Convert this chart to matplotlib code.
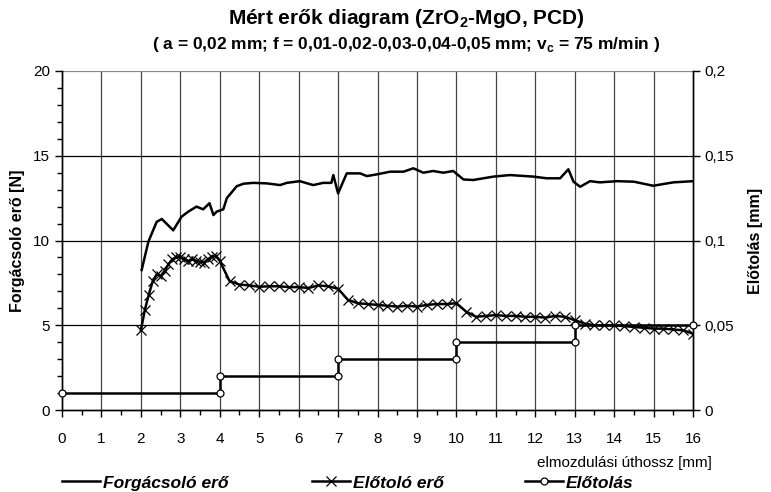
import matplotlib
matplotlib.use("Agg")
import matplotlib.pyplot as plt
from matplotlib.ticker import MultipleLocator, FuncFormatter
from matplotlib.lines import Line2D

plt.rcParams['font.family'] = ['Liberation Sans', 'DejaVu Sans']
plt.rcParams['mathtext.fontset'] = 'custom'
plt.rcParams['mathtext.rm'] = 'Liberation Sans'
plt.rcParams['mathtext.bf'] = 'Liberation Sans:bold'

# Forgácsoló erő (cutting force) [N]
fc_x = [2.02, 2.19, 2.4, 2.53, 2.82, 3.03, 3.2, 3.41, 3.58, 3.74, 3.84, 3.92, 4.09, 4.18,
        4.43, 4.6, 4.85, 5.19, 5.53, 5.7, 6.03, 6.37, 6.62, 6.83, 6.88, 7.0, 7.22, 7.56,
        7.73, 7.98, 8.32, 8.66, 8.91, 9.16, 9.41, 9.67, 9.92, 10.18, 10.43, 10.94, 11.36,
        11.95, 12.29, 12.63, 12.84, 12.97, 13.14, 13.39, 13.64, 14.07, 14.5, 14.99, 15.5, 16.0]
fc_y = [8.26, 9.93, 11.1, 11.27, 10.6, 11.4, 11.7, 12.0, 11.84, 12.2, 11.5, 11.7, 11.84, 12.5,
        13.2, 13.35, 13.4, 13.37, 13.27, 13.4, 13.5, 13.27, 13.4, 13.4, 13.86, 12.78, 13.96, 13.96,
        13.8, 13.9, 14.06, 14.06, 14.26, 14.0, 14.1, 14.0, 14.1, 13.6, 13.57, 13.77, 13.86,
        13.77, 13.67, 13.67, 14.2, 13.47, 13.17, 13.5, 13.43, 13.5, 13.47, 13.23, 13.43, 13.5]

# Előtoló erő (feed force) [N]
ff_x = [2.0, 2.1, 2.2, 2.3, 2.4, 2.5, 2.6, 2.7, 2.8, 2.9, 3.0, 3.1, 3.2, 3.3, 3.4, 3.5, 3.6,
        3.7, 3.8, 3.9, 4.0, 4.25, 4.5, 4.75, 5.0, 5.25, 5.5, 5.75, 6.0, 6.25, 6.5, 6.75, 7.0,
        7.25, 7.5, 7.75, 8.0, 8.25, 8.5, 8.75, 9.0, 9.25, 9.5, 9.75, 10.0, 10.25, 10.5, 10.75,
        11.0, 11.25, 11.5, 11.75, 12.0, 12.25, 12.5, 12.75, 13.0, 13.25, 13.5, 13.75, 14.0,
        14.25, 14.5, 14.75, 15.0, 15.25, 15.5, 15.75, 16.0]
ff_y = [4.7, 5.9, 6.8, 7.6, 8.0, 7.9, 8.2, 8.6, 8.9, 9.0, 9.05, 8.9, 8.8, 8.9, 8.8, 8.75, 8.7,
        8.9, 9.05, 9.1, 8.8, 7.6, 7.4, 7.35, 7.27, 7.3, 7.3, 7.25, 7.25, 7.2, 7.35, 7.3, 7.15,
        6.5, 6.3, 6.25, 6.2, 6.15, 6.1, 6.15, 6.1, 6.2, 6.25, 6.25, 6.3, 5.8, 5.5, 5.55,
        5.6, 5.55, 5.55, 5.5, 5.5, 5.45, 5.55, 5.5, 5.3, 5.1, 5.0, 5.0, 5.0,
        4.95, 4.9, 4.85, 4.8, 4.8, 4.75, 4.7, 4.5]

# Előtolás (feed) [mm]
f_x = [0, 4, 4, 7, 7, 10, 10, 13, 13, 16]
f_y = [0.01, 0.01, 0.02, 0.02, 0.03, 0.03, 0.04, 0.04, 0.05, 0.05]

x_ticks = list(range(0, 17))
left_ticks = [0, 5, 10, 15, 20]
right_ticks = [0, 0.05, 0.1, 0.15, 0.2]

LW = 1.8
fig = plt.figure(figsize=(7.71, 4.92), dpi=100)
ax = fig.add_axes([62/771, 1-410/492, (693-62)/771, (410-71)/492])
ax2 = ax.twinx()

ax.set_xlim(0, 16)
ax.set_ylim(0, 20)
ax2.set_ylim(0, 0.2)

# grid
for xv in x_ticks[1:-1]:
    ax.axvline(xv, color='#444444', lw=0.9, zorder=0)
for yv in left_ticks[1:]:
    ax.axhline(yv, color='black' if yv < 20 else '#888888', lw=0.9, zorder=0)

ax.plot(fc_x, fc_y, color='black', lw=LW, zorder=3)
ax.plot(ff_x, ff_y, color='black', lw=LW, marker='x', ms=6.5, mew=0.9, zorder=3)
ax2.plot(f_x, f_y, color='black', lw=LW, marker='o', ms=5, mfc='white', mec='black', mew=0.9, zorder=4,
         clip_on=False)

ax.set_xticks(x_ticks)
ax.xaxis.set_minor_locator(MultipleLocator(0.5))
ax.set_yticks(left_ticks)
ax.yaxis.set_minor_locator(MultipleLocator(1))
ax2.set_yticks(right_ticks)
ax2.yaxis.set_major_formatter(FuncFormatter(lambda v, p: ('%g' % v).replace('.', ',')))

ax.tick_params(axis='both', which='major', direction='out', length=5, width=1, labelsize=11, colors='black')
ax.tick_params(axis='both', which='minor', direction='out', length=3.5, width=1)
ax2.tick_params(axis='y', which='major', direction='out', length=5, width=1, labelsize=11)
ax.tick_params(axis='x', which='major', pad=11)

for a in (ax, ax2):
    a.spines['top'].set_visible(False)
    for s in ('left', 'right', 'bottom'):
        a.spines[s].set_linewidth(1.0)

ax.set_ylabel('Forgácsoló erő [N]', fontsize=11.5, fontweight='bold', labelpad=6)
ax2.set_ylabel('Előtolás [mm]', fontsize=11.5, fontweight='bold', labelpad=10)

fig.text(712/771, 1-463/492, 'elmozdulási úthossz [mm]', ha='right', va='center', fontsize=11)

fig.text(406/771, 1-19/492, r'Mért erők diagram (ZrO$_\mathbf{2}$-MgO, PCD)', ha='center', va='center',
         fontsize=15, fontweight='bold')
fig.text(406/771, 1-45/492, r'( a = 0,02 mm; f = 0,01-0,02-0,03-0,04-0,05 mm; v$_\mathbf{c}$ = 75 m/min )',
         ha='center', va='center', fontsize=12.5, fontweight='bold')

# legend entries
handles = [
    (Line2D([], [], color='black', lw=LW), 'Forgácsoló erő', 62),
    (Line2D([], [], color='black', lw=LW, marker='x', ms=6.5, mew=0.9), 'Előtoló erő', 312),
    (Line2D([], [], color='black', lw=LW, marker='o', ms=5, mfc='white', mec='black', mew=0.9), 'Előtolás', 525),
]
for h, lab, px in handles:
    fig.legend([h], [lab], loc='center left', bbox_to_anchor=(px/771, 1-483/492), frameon=False,
               handlelength=2.2, handletextpad=0.15, borderpad=0, borderaxespad=0,
               prop={'weight': 'bold', 'style': 'italic', 'size': 12.5})

fig.savefig('out.png', dpi=100)
